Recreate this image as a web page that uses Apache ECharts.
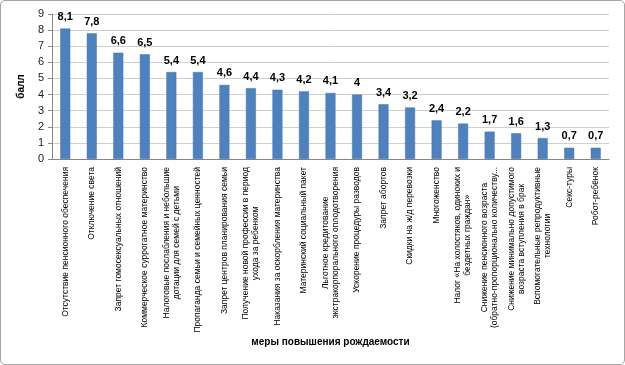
<!DOCTYPE html>
<html>
<head>
<meta charset="utf-8">
<script src="https://cdn.jsdelivr.net/npm/echarts@6/dist/echarts.min.js"></script>
<style>
  html, body { margin: 0; padding: 0; background: #fff; }
  #chart {
    width: 625px;
    height: 365px;
    box-sizing: border-box;
    border: 1px solid #a6a6a6;
    border-radius: 5px;
  }
</style>
</head>
<body>
<div id="chart"></div>
<script>
// меры повышения рождаемости
const categories = [
  "Отсутствие пенсионного обеспечения",
  "Отключение света",
  "Запрет гомосексуальных отношений",
  "Коммерческое суррогатное материнство",
  "Налоговые послабления и небольшие\nдотации для семей с детьми",
  "Пропаганда семьи и семейных ценностей",
  "Запрет центров планирования семьи",
  "Получение новой профессии в период\nухода за ребенком",
  "Наказания за оскорбления материнства",
  "Материнский социальный пакет",
  "Льготное кредитование\nэкстракорпорального оплодотворения",
  "Ускорение процедуры разводов",
  "Запрет абортов",
  "Скидки на ж/д перевозки",
  "Многоженство",
  "Налог «На холостяков, одиноких и\nбездетных граждан»",
  "Снижение пенсионного возраста\n(обратно-пропорционально количеству...",
  "Снижение минимально допустимого\nвозраста вступления в брак",
  "Вспомогательные репродуктивные\nтехнологии",
  "Секс-туры",
  "Робот-ребёнок"
];
// балл
const scores = [8.1, 7.8, 6.6, 6.5, 5.4, 5.4, 4.6, 4.4, 4.3, 4.2, 4.1, 4, 3.4, 3.2, 2.4, 2.2, 1.7, 1.6, 1.3, 0.7, 0.7];
const yTicks = [0, 1, 2, 3, 4, 5, 6, 7, 8, 9];

const myChart = echarts.init(document.getElementById("chart"));

const option = {
  animation: false,
  textStyle: { fontFamily: "Liberation Sans" },
  grid: { left: 51, top: 13, right: 15, bottom: 205 },
  xAxis: {
    type: "category",
    data: categories,
    name: "меры повышения рождаемости",
    nameLocation: "middle",
    nameGap: 178,
    nameTextStyle: { fontSize: 10, fontWeight: "bold", color: "#000" },
    axisLine: { lineStyle: { color: "#868686" } },
    axisTick: { show: false },
    axisLabel: {
      interval: 0,
      rotate: 90,
      margin: 8,
      fontSize: 8.5,
      color: "#000",
      lineHeight: 10,
      // center the lines of two-line labels like the original
      formatter: (v) => v.split("\n").map((s) => "{c|" + s + "}").join("\n"),
      rich: { c: { align: "center", fontSize: 8.5, lineHeight: 10, color: "#000" } }
    }
  },
  yAxis: {
    type: "value",
    min: yTicks[0],
    max: yTicks[yTicks.length - 1],
    interval: 1,
    name: "балл",
    nameLocation: "middle",
    nameGap: 26,
    nameTextStyle: { fontSize: 10, fontWeight: "bold", color: "#000" },
    axisLine: { show: true, lineStyle: { color: "#868686" } },
    axisTick: { show: true, length: 4, inside: false, lineStyle: { color: "#868686" } },
    axisLabel: { fontSize: 11, color: "#222", margin: 8 },
    splitLine: { lineStyle: { color: "#d0d0d0" } }
  },
  series: [
    {
      type: "bar",
      data: scores,
      barWidth: 10,
      itemStyle: { color: "#4f81bd", borderColor: "#4677b3", borderWidth: 0.5 },
      label: {
        show: true,
        position: "top",
        distance: 6,
        fontSize: 11,
        fontWeight: "bold",
        color: "#000",
        formatter: (p) => String(p.value).replace(".", ",")
      }
    }
  ]
};

myChart.setOption(option, true);
</script>
</body>
</html>
